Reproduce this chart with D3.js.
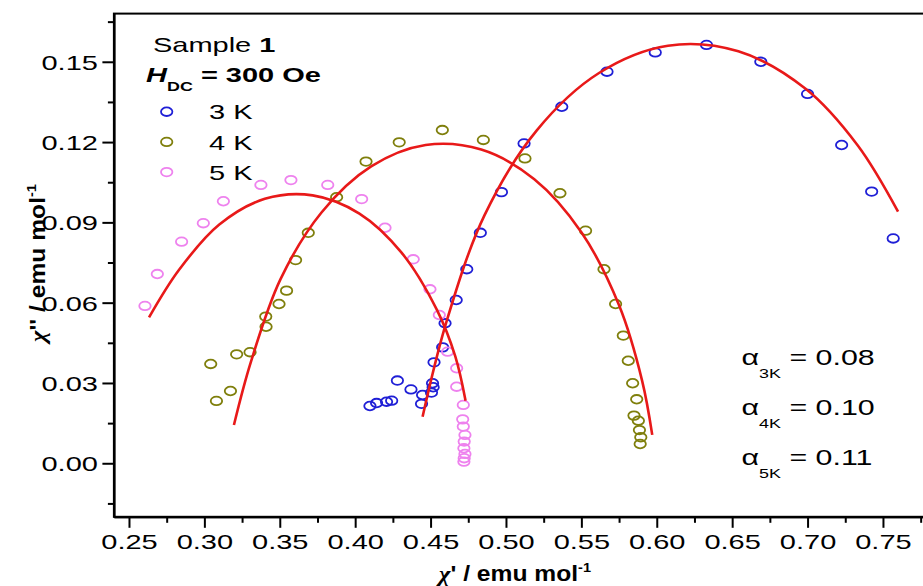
<!DOCTYPE html>
<html><head><meta charset="utf-8">
<script src="https://cdn.jsdelivr.net/npm/d3@7"></script>
<style>
body{margin:0;background:#fff}
svg{display:block}
text{font-family:"Liberation Sans",Arial,sans-serif;fill:#000}
</style>
</head><body>
<svg id="c" width="923" height="586"></svg>
<script>
// ---- data ----
const xTickValues = [0.25,0.30,0.35,0.40,0.45,0.50,0.55,0.60,0.65,0.70,0.75];
const yTickValues = [0.00,0.03,0.06,0.09,0.12,0.15];
const seriesNames = ["3 K","4 K","5 K"];
const alphaLabels = ["3K","4K","5K"];
const alphaValues = ["0.08","0.10","0.11"];

const chi3K_re = [0.4098,0.4142,0.4208,0.4242,0.4280,0.4370,0.4440,0.4447,0.4506,0.4517,0.4513,0.4523,0.4580,0.4596,0.4670,0.4740,0.4830,0.4970,0.5120,0.5370,0.5670,0.5990,0.6330,0.6690,0.7000,0.7226,0.7425,0.7568];
const chi3K_im = [0.0214,0.0225,0.0230,0.0234,0.0309,0.0276,0.0222,0.0255,0.0264,0.0284,0.0299,0.0377,0.0433,0.0523,0.0610,0.0725,0.0861,0.1013,0.1195,0.1332,0.1463,0.1535,0.1563,0.1500,0.1380,0.1189,0.1015,0.0840];

const chi4K_re = [0.3080,0.3173,0.3042,0.3214,0.3303,0.3409,0.3407,0.3495,0.3545,0.3605,0.3689,0.3877,0.4072,0.4292,0.4578,0.4850,0.5126,0.5358,0.5528,0.5650,0.5727,0.5778,0.5811,0.5840,0.5867,0.5849,0.5878,0.5885,0.5894,0.5890];
const chi4K_im = [0.0233,0.0270,0.0371,0.0407,0.0415,0.0510,0.0548,0.0595,0.0645,0.0759,0.0861,0.0994,0.1127,0.1199,0.1245,0.1208,0.1139,0.1009,0.0869,0.0725,0.0595,0.0477,0.0383,0.0299,0.0239,0.0178,0.0159,0.0124,0.0097,0.0072];

const chi5K_re = [0.2606,0.2688,0.2849,0.2993,0.3126,0.3375,0.3574,0.3818,0.4043,0.4198,0.4385,0.4496,0.4558,0.4613,0.4673,0.4673,0.4717,0.4713,0.4717,0.4728,0.4723,0.4721,0.4728,0.4723,0.4721];
const chi5K_im = [0.0588,0.0707,0.0828,0.0897,0.0979,0.1040,0.1058,0.1040,0.0987,0.0880,0.0762,0.0650,0.0554,0.0417,0.0355,0.0286,0.0218,0.0164,0.0137,0.0106,0.0081,0.0056,0.0035,0.0019,0.0006];

// fitted Cole-Cole curves
const fit3K_re = [0.4447,0.4607,0.4858,0.5203,0.5617,0.6074,0.6541,0.6987,0.7333,0.7600];
const fit3K_im = [0.0174,0.0532,0.0927,0.1243,0.1458,0.1560,0.1539,0.1399,0.1187,0.0940];
const fit4K_re = [0.3196,0.3307,0.3505,0.3778,0.4106,0.4467,0.4836,0.5188,0.5500,0.5750,0.5903,0.5970];
const fit4K_im = [0.0143,0.0376,0.0688,0.0938,0.1109,0.1189,0.1172,0.1061,0.0863,0.0590,0.0308,0.0106];
const fit5K_re = [0.2633,0.2831,0.3099,0.3401,0.3718,0.4028,0.4309,0.4543,0.4664,0.4732];
const fit5K_im = [0.0545,0.0722,0.0892,0.0988,0.1001,0.0933,0.0786,0.0572,0.0399,0.0234];

// ---- layout ----
const colors = ["#1f1fd6","#7f7f0c","#ee82ee"];
const fitColor = "#e81919";
const SX = 1.38; // horizontal stretch of the original figure's text

const svg = d3.select("#c");
const x = d3.scaleLinear().domain([0.24,0.78]).range([113.9,928.2]);
const y = d3.scaleLinear().domain([-0.02,0.168]).range([516.8,13.6]);

const zip = (a,b)=>a.map((v,i)=>[v,b[i]]);
const scatter = [zip(chi3K_re,chi3K_im), zip(chi4K_re,chi4K_im), zip(chi5K_re,chi5K_im)];
const fits = [zip(fit3K_re,fit3K_im), zip(fit4K_re,fit4K_im), zip(fit5K_re,fit5K_im)];

// frame
svg.append("rect")
  .attr("x",x(0.24)).attr("y",y(0.168))
  .attr("width",x(0.78)-x(0.24)).attr("height",y(-0.02)-y(0.168))
  .attr("fill","none").attr("stroke","#000").attr("stroke-width",2);

// axes
const fmt = d3.format(".2f");
const minorX = d3.range(0.25,0.78,0.025).map(v=>+v.toFixed(3)).filter(v=>!xTickValues.some(t=>Math.abs(t-v)<1e-6));
const minorY = d3.range(-0.015,0.168,0.015).map(v=>+v.toFixed(3)).filter(v=>!yTickValues.some(t=>Math.abs(t-v)<1e-6));

const gx = svg.append("g").attr("transform",`translate(0,${y(-0.02)})`)
  .call(d3.axisBottom(x).tickValues(xTickValues).tickSize(11).tickSizeOuter(0).tickPadding(8).tickFormat(fmt));
const gxm = svg.append("g").attr("transform",`translate(0,${y(-0.02)})`)
  .call(d3.axisBottom(x).tickValues(minorX).tickSize(6).tickSizeOuter(0).tickFormat(""));
const gy = svg.append("g").attr("transform",`translate(${x(0.24)},0)`)
  .call(d3.axisLeft(y).tickValues(yTickValues).tickSize(11.5).tickSizeOuter(0).tickFormat(fmt));
const gym = svg.append("g").attr("transform",`translate(${x(0.24)},0)`)
  .call(d3.axisLeft(y).tickValues(minorY).tickSize(6).tickSizeOuter(0).tickFormat(""));

[gx,gxm,gy,gym].forEach(g=>{
  g.select(".domain").attr("stroke","#000").attr("stroke-width",2);
  g.selectAll(".tick line").attr("stroke","#000").attr("stroke-width",2);
});
gx.selectAll(".tick text").attr("font-size",21).attr("font-family","Liberation Sans, Arial, sans-serif")
  .attr("y",17).attr("dy","0.71em").attr("transform",`scale(${SX},1)`);
gy.selectAll(".tick text").attr("font-size",21).attr("font-family","Liberation Sans, Arial, sans-serif")
  .attr("x",-16/SX).attr("dy","0.36em").attr("transform",`scale(${SX},1)`);

// scatter markers
scatter.forEach((pts,i)=>{
  svg.append("g").selectAll("ellipse").data(pts).join("ellipse")
    .attr("cx",d=>x(d[0])).attr("cy",d=>y(d[1]))
    .attr("rx",5.7).attr("ry",4.3)
    .attr("fill","none").attr("stroke",colors[i]).attr("stroke-width",1.8);
});

// fit curves
const line = d3.line().x(d=>x(d[0])).y(d=>y(d[1])).curve(d3.curveCatmullRom.alpha(0.5));
fits.forEach(f=>{
  svg.append("path").attr("d",line(f)).attr("fill","none")
    .attr("stroke",fitColor).attr("stroke-width",2.6);
});

// legend / annotations
const t1 = svg.append("text").attr("transform",`translate(153,52) scale(${SX},1)`).attr("font-size",21);
t1.append("tspan").text("Sample ");
t1.append("tspan").attr("font-weight","bold").text("1");

const t2 = svg.append("text").attr("transform",`translate(146,82) scale(${SX},1)`).attr("font-size",21).attr("font-weight","bold");
t2.append("tspan").attr("font-style","italic").text("H");
t2.append("tspan").attr("font-size",13).attr("dy",9).text("DC");
t2.append("tspan").attr("dy",-9).text(" = 300 Oe");

seriesNames.forEach((n,i)=>{
  const cy = 111.7 + i*30.2;
  svg.append("ellipse").attr("cx",166.7).attr("cy",cy).attr("rx",5.7).attr("ry",4.3)
    .attr("fill","none").attr("stroke",colors[i]).attr("stroke-width",1.8);
  svg.append("text").attr("transform",`translate(209,${cy+7.6}) scale(${SX},1)`).attr("font-size",21).text(n);
});

alphaLabels.forEach((lab,i)=>{
  const by = 365 + i*50;
  const t = svg.append("text").attr("transform",`translate(741.5,${by}) scale(${SX},1)`).attr("font-size",22);
  t.append("tspan").text("α");
  t.append("tspan").attr("font-size",13).attr("dy",13).text(lab);
  t.append("tspan").attr("dy",-13).text(" = " + alphaValues[i]);
});

// axis titles
const xt = svg.append("text").attr("transform",`translate(515,581) scale(1.12,1)`)
  .attr("text-anchor","middle").attr("font-size",22).attr("font-weight","bold");
xt.append("tspan").attr("font-family","Liberation Serif, serif").attr("font-style","italic").text("χ");
xt.append("tspan").text("' / emu mol");
xt.append("tspan").attr("font-size",13).attr("dy",-9).text("-1");

const yt = svg.append("text").attr("transform",`translate(45,263) rotate(-90) scale(1.12,1)`)
  .attr("text-anchor","middle").attr("font-size",22).attr("font-weight","bold");
yt.append("tspan").attr("font-family","Liberation Serif, serif").attr("font-style","italic").text("χ");
yt.append("tspan").text("'' / emu mol");
yt.append("tspan").attr("font-size",13).attr("dy",-9).text("-1");
</script>
</body></html>
